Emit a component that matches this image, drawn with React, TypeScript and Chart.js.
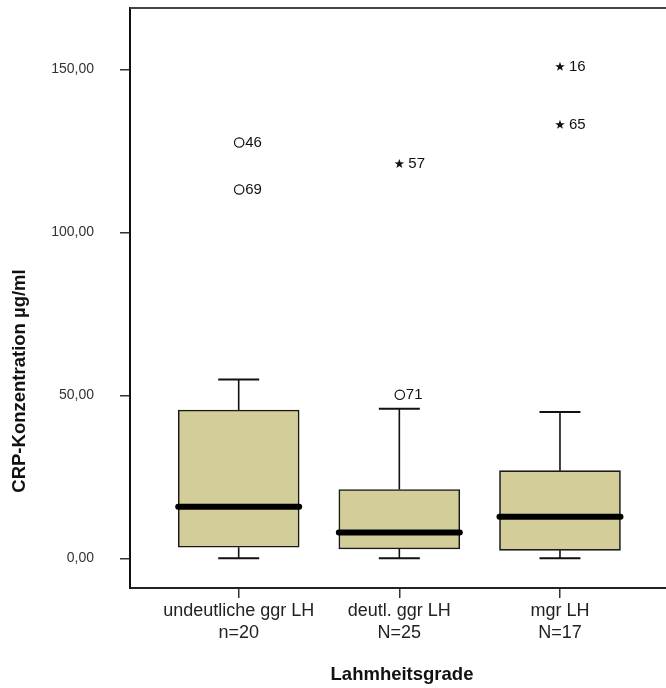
import React, { useEffect, useRef } from "react";
import { Chart, registerables } from "chart.js";

Chart.register(...registerables);

// ---- data ----
const categories = [["undeutliche ggr LH", "n=20"], ["deutl. ggr LH", "N=25"], ["mgr LH", "N=17"]];
const whiskerMin = [0, 0, 0];
const q1 = [3.4, 2.9, 2.45];
const median = [15.8, 7.9, 12.8];
const q3 = [45.5, 21.1, 26.9];
const whiskerMax = [54.9, 45.9, 44.9];
// outliers: group index (1-based), value, case label, kind
const outlierGroup = [1, 1, 2, 2, 3, 3];
const outlierValue = [127.6, 113.2, 50.2, 121.2, 151.0, 133.2];
const outlierLabel = ["46", "69", "71", "57", "16", "65"];
const outlierKind = ["circle", "circle", "circle", "star", "star", "star"];
const yTicks = [0, 50, 100, 150];
const yTickLabels = ["0,00", "50,00", "100,00", "150,00"];
const yTitle = "CRP-Konzentration µg/ml";
const xTitle = "Lahmheitsgrade";

const FONT = "'Liberation Sans', Arial, Helvetica, sans-serif";

const extrasPlugin = {
  id: "boxExtras",
  afterDatasetsDraw(chart: any) {
    const { ctx, chartArea } = chart;
    const x = chart.scales.x;
    const y = chart.scales.y;
    const meta = chart.getDatasetMeta(0);
    ctx.save();
    // top frame line
    ctx.strokeStyle = "#444";
    ctx.lineWidth = 2;
    ctx.beginPath();
    ctx.moveTo(chartArea.left, chartArea.top);
    ctx.lineTo(chartArea.right, chartArea.top);
    ctx.stroke();

    categories.forEach((_, i) => {
      const cx = x.getPixelForValue(i + 1);
      const bar = meta.data[i];
      const half = bar ? bar.width / 2 : 60;
      const capHalf = 20.5;
      ctx.strokeStyle = "#111";
      // whisker stems
      ctx.lineWidth = 1.6;
      ctx.lineCap = "butt";
      ctx.beginPath();
      ctx.moveTo(cx, y.getPixelForValue(q3[i]));
      ctx.lineTo(cx, y.getPixelForValue(whiskerMax[i]));
      ctx.moveTo(cx, y.getPixelForValue(q1[i]));
      ctx.lineTo(cx, y.getPixelForValue(whiskerMin[i]));
      ctx.stroke();
      // caps
      ctx.lineWidth = 2;
      ctx.beginPath();
      const yMax = y.getPixelForValue(whiskerMax[i]);
      const yMin = y.getPixelForValue(whiskerMin[i]);
      ctx.moveTo(cx - capHalf, yMax);
      ctx.lineTo(cx + capHalf, yMax);
      ctx.moveTo(cx - capHalf, yMin);
      ctx.lineTo(cx + capHalf, yMin);
      ctx.stroke();
      // median
      ctx.strokeStyle = "#000";
      ctx.lineWidth = 6;
      ctx.lineCap = "round";
      ctx.beginPath();
      const ym = y.getPixelForValue(median[i]);
      ctx.moveTo(cx - half, ym);
      ctx.lineTo(cx + half, ym);
      ctx.stroke();
    });

    // outliers
    ctx.font = `15px ${FONT}`;
    ctx.textBaseline = "middle";
    ctx.textAlign = "left";
    outlierValue.forEach((v, k) => {
      const cx = x.getPixelForValue(outlierGroup[k]);
      const cy = y.getPixelForValue(v);
      ctx.fillStyle = "#111";
      ctx.strokeStyle = "#111";
      if (outlierKind[k] === "circle") {
        ctx.lineWidth = 1.2;
        ctx.beginPath();
        ctx.arc(cx + 0.5, cy, 4.7, 0, Math.PI * 2);
        ctx.stroke();
        ctx.fillText(outlierLabel[k], cx + 6.5, cy + 0.5);
      } else {
        const ro = 5, ri = 2;
        ctx.beginPath();
        for (let p = 0; p < 10; p++) {
          const r = p % 2 === 0 ? ro : ri;
          const a = -Math.PI / 2 + (p * Math.PI) / 5;
          const px = cx + r * Math.cos(a);
          const py = cy + 0.5 + r * Math.sin(a);
          if (p === 0) ctx.moveTo(px, py);
          else ctx.lineTo(px, py);
        }
        ctx.closePath();
        ctx.fill();
        ctx.fillText(outlierLabel[k], cx + 9, cy + 0.5);
      }
    });

    // axis titles
    ctx.fillStyle = "#111";
    ctx.font = `bold 18.5px ${FONT}`;
    ctx.textAlign = "center";
    ctx.textBaseline = "middle";
    ctx.fillText(xTitle, (chartArea.left + chartArea.right) / 2 + 4, 675);
    ctx.save();
    ctx.translate(20, 381);
    ctx.rotate(-Math.PI / 2);
    ctx.fillText(yTitle, 0, 0);
    ctx.restore();
    ctx.restore();
  },
};

export default function App() {
  const ref = useRef<HTMLCanvasElement | null>(null);
  useEffect(() => {
    if (!ref.current) return;
    const chart = new Chart(ref.current, {
      type: "bar",
      data: {
        datasets: [
          {
            data: categories.map((_, i) => ({ x: i + 1, y: [q1[i], q3[i]] })) as any,
            backgroundColor: "#D3CE99",
            borderColor: "#1a1a1a",
            borderWidth: 1.6,
            borderSkipped: false,
            barThickness: 121,
          },
        ],
      },
      options: {
        animation: false,
        responsive: false,
        devicePixelRatio: 1,
        layout: { padding: { top: 8, right: 0, left: 0, bottom: 0 } },
        plugins: { legend: { display: false }, tooltip: { enabled: false }, title: { display: false } },
        scales: {
          x: {
            type: "linear",
            offset: false,
            min: 0.3234,
            max: 3.66,
            afterBuildTicks: (s: any) => {
              s.ticks = categories.map((_, i) => ({ value: i + 1 }));
            },
            afterFit: (s: any) => {
              s.height = 100;
              s.paddingLeft = 0;
              s.paddingRight = 0;
              s.paddingTop = 0;
              s.paddingBottom = 0;
            },
            ticks: {
              autoSkip: false,
              maxRotation: 0,
              padding: 3,
              color: "#222",
              font: { family: FONT, size: 18, lineHeight: 1.17 },
              callback: (v: any) => categories[Math.round(Number(v)) - 1] ?? "",
            },
            grid: { offset: false, drawOnChartArea: false, drawTicks: true, tickLength: 10, color: "#333", lineWidth: 1.5 },
            border: { display: true, color: "#222", width: 2 },
          },
          y: {
            type: "linear",
            min: -9.1,
            max: 168.9,
            afterBuildTicks: (s: any) => {
              s.ticks = yTicks.map((v) => ({ value: v }));
            },
            afterFit: (s: any) => {
              s.width = 130;
              s.paddingLeft = 0;
              s.paddingRight = 0;
              s.paddingTop = 0;
              s.paddingBottom = 0;
            },
            ticks: {
              padding: 26,
              color: "#333",
              font: { family: FONT, size: 14 },
              callback: (v: any) => {
                const idx = yTicks.indexOf(Number(v));
                return idx >= 0 ? yTickLabels[idx] : "";
              },
            },
            grid: { drawOnChartArea: false, drawTicks: true, tickLength: 10, color: "#333", lineWidth: 1.5 },
            border: { display: true, color: "#111", width: 2 },
          },
        },
      },
      plugins: [extrasPlugin],
    } as any);
    return () => chart.destroy();
  }, []);
  return (
    <div style={{ position: "absolute", left: 0, top: 0, width: 666, height: 688, background: "#fff" }}>
      <canvas ref={ref} width={666} height={688} style={{ display: "block" }} />
    </div>
  );
}
